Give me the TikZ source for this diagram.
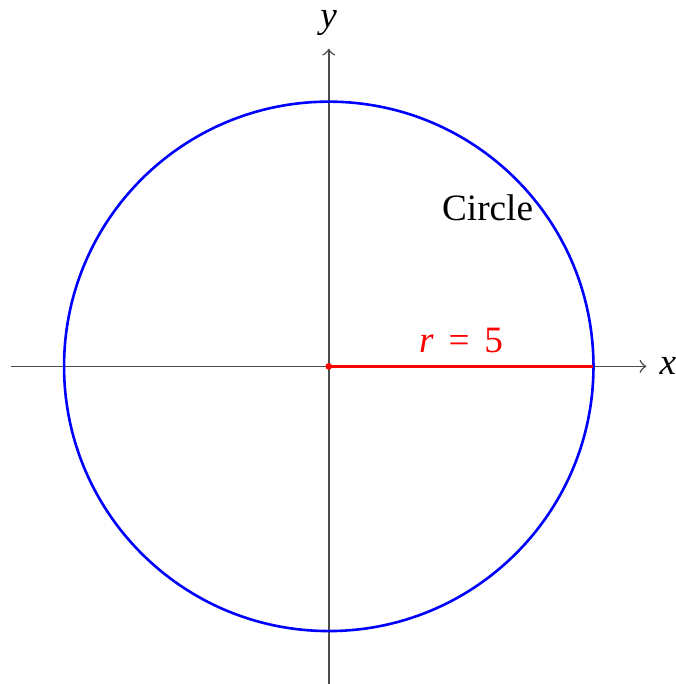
\documentclass[tikz,border=0pt]{standalone}
\usepackage{fontspec}
\setmainfont{Liberation Serif}
\begin{document}
\begin{tikzpicture}[x=0.5cm,y=0.5cm,
  axis/.style={thin,black!70,->,>=to},
  circ/.style={line width=0.7pt,blue},
  rad/.style={thick,red}]
\useasboundingbox (-6.21,-6) rectangle (6.55,6.92);
\coordinate (O) at (0,0);
\coordinate (xl) at (-6,0);
\coordinate (xr) at (6,0);
\coordinate (yb) at (0,-6);
\coordinate (yt) at (0,6);
\coordinate (P) at (5,0);
\draw[axis] (xl) -- (xr) node[right,black] (xlab) {\textit{x}};
\draw[axis] (yb) -- (yt) node[above,black] (ylab) {\textit{y}};
\draw[circ] (O) circle[radius=5];
\node (clab) at (3,3) {Circle};
\draw[rad] (O) -- node[above] (rlab) {\textit{r}\hspace{0.4em}=\hspace{0.4em}5} (P);
\fill[red] (O) circle[radius=0.9pt];
\end{tikzpicture}
\end{document}
